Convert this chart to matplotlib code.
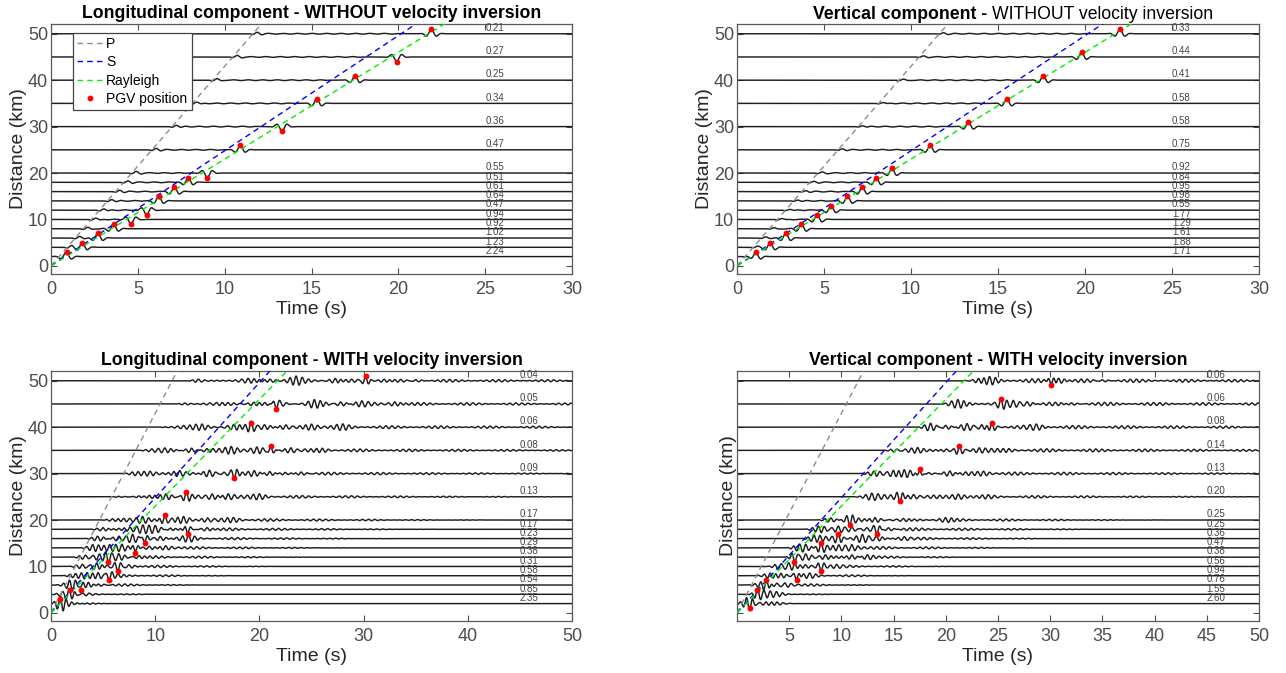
import numpy as np
import matplotlib.pyplot as plt

plt.rcParams['font.family'] = ['Liberation Sans', 'DejaVu Sans']

# receiver distances (km), bottom to top
dist = [2, 4, 6, 8, 10, 12, 14, 16, 18, 20, 25, 30, 35, 40, 45, 50]

# moveout velocities (km/s)
vp, vs, vr = 4.3, 2.48, 2.3

# PGV labels, bottom to top
pgv_lon_no = ['2.24', '1.23', '1.02', '0.92', '0.94', '0.47', '0.64', '0.61',
              '0.51', '0.55', '0.47', '0.36', '0.34', '0.25', '0.27', '0.21']
pgv_ver_no = ['1.71', '1.88', '1.61', '1.29', '1.77', '0.55', '0.98', '0.95',
              '0.84', '0.92', '0.75', '0.58', '0.58', '0.41', '0.44', '0.33']
pgv_lon_inv = ['2.35', '0.85', '0.54', '0.58', '0.31', '0.38', '0.29', '0.23',
               '0.17', '0.17', '0.13', '0.09', '0.08', '0.06', '0.05', '0.04']
pgv_ver_inv = ['2.60', '1.55', '0.76', '0.94', '0.56', '0.38', '0.47', '0.36',
               '0.25', '0.25', '0.20', '0.13', '0.14', '0.08', '0.06', '0.06']

# PGV time (s) and polarity of the peak
tpk_lon_no = [0.9, 1.8, 2.7, 3.6, 4.6, 5.5, 6.2, 7.1, 7.9, 9.0, 10.9, 13.3, 15.3, 17.5, 19.9, 21.9]
sgn_lon_no = [1, 1, 1, 1, -1, -1, 1, 1, 1, -1, 1, -1, 1, 1, -1, 1]
tpk_ver_no = [1.07, 1.9, 2.8, 3.7, 4.6, 5.4, 6.35, 7.2, 8.0, 8.9, 11.1, 13.3, 15.5, 17.6, 19.8, 22.0]
sgn_ver_no = [1] * 16
tpk_lon_inv = [0.9, 1.8, 2.9, 5.6, 6.4, 5.5, 8.1, 9.0, 13.1, 10.9, 13.0, 17.6, 21.1, 19.2, 21.6, 30.2]
sgn_lon_inv = [1, 1, -1, -1, -1, -1, -1, -1, -1, 1, 1, -1, 1, 1, -1, 1]
tpk_ver_inv = [1.2, 1.95, 2.8, 5.7, 8.05, 5.5, 8.05, 9.7, 13.4, 10.8, 15.6, 17.5, 21.3, 24.4, 25.3, 30.1]
sgn_ver_inv = [-1, 1, 1, -1, -1, -1, 1, 1, -1, -1, -1, 1, 1, 1, 1, -1]

# P precursor amplitude for the simple (no inversion) traces
pamp_lon_no = 0.3
pamp_ver_no = 0.2

# coda description for the inversion traces: onset, end, level, extra wave packets
on_lon_inv = [0.4, 0.9, 1.3, 1.8, 2.3, 2.8, 3.2, 3.7, 4.2, 4.6, 5.8, 7.0, 8.2, 10.0, 12.0, 13.0]
end_lon_inv = [7, 11, 15, 18, 22, 26, 30, 34, 38, 44, 52, 60, 70, 80, 80, 80]
lvl_lon_inv = [0.2, 0.3, 0.4, 0.42, 0.42, 0.42, 0.42, 0.42, 0.45, 0.45, 0.45, 0.45, 0.45, 0.45, 0.45, 0.45]
bursts_lon_inv = [
    [(1.15, -0.9), (2.5, 0.2), (3.5, 0.15)],
    [(1.4, -0.6), (2.2, 0.6), (3.0, 0.4)],
    [(1.8, 0.6), (2.3, 0.6), (3.6, 0.5), (4.5, 0.4)],
    [(2.4, 0.5), (3.5, 0.6), (4.5, 0.6), (6.5, 0.4)],
    [(3.0, 0.5), (4.4, 0.7), (5.3, 0.6), (7.5, 0.4)],
    [(3.3, 0.5), (4.6, 0.6), (6.5, 0.6), (8.5, 0.4)],
    [(4.0, 0.4), (5.6, 0.6), (6.8, 0.7), (9.5, 0.5), (11.0, 0.4)],
    [(4.5, 0.4), (6.5, 0.6), (7.8, 0.75), (10.5, 0.5), (13.2, 0.5)],
    [(5.0, 0.4), (7.5, 0.6), (8.8, 0.75), (10.0, 0.7), (11.5, 0.5), (15.0, 0.4)],
    [(6.0, 0.4), (8.8, 0.7), (12.7, 0.7), (15.0, 0.5), (17.5, 0.4)],
    [(8.5, 0.4), (11.0, 0.7), (15.5, 0.7), (17.0, 0.6), (20.0, 0.4)],
    [(9.5, 0.4), (12.3, 0.7), (15.2, 0.8), (19.5, 0.6), (21.0, 0.7), (24.0, 0.4)],
    [(11.0, 0.4), (13.5, 0.6), (17.3, 0.75), (19.8, 0.6), (23.0, 0.6), (26.0, 0.4)],
    [(14.5, 0.4), (17.6, 0.6), (20.5, 0.5), (22.5, 0.7), (25.0, 0.6), (28.0, 0.4)],
    [(16.0, 0.35), (19.5, 0.4), (22.0, 0.7), (25.3, 0.75), (27.8, 0.5), (29.8, 0.5), (33.0, 0.45)],
    [(15.0, 0.3), (19.0, 0.35), (21.0, 0.4), (23.5, 0.7), (27.3, 0.6), (32.0, 0.4), (35.0, 0.35)],
]
on_ver_inv = [0.5, 1.5, 2.2, 3.0, 3.8, 4.5, 5.5, 6.5, 7.5, 8.5, 11.0, 13.0, 15.0, 17.5, 19.5, 21.0]
end_ver_inv = [7, 10, 14, 17, 21, 25, 29, 33, 37, 42, 52, 62, 75, 80, 80, 80]
lvl_ver_inv = [0.2, 0.3, 0.4, 0.42, 0.42, 0.42, 0.45, 0.45, 0.45, 0.45, 0.45, 0.45, 0.45, 0.45, 0.48, 0.48]
bursts_ver_inv = [
    [(0.9, 0.6), (2.8, 0.3), (3.8, 0.3)],
    [(2.6, 0.5), (3.8, 0.35)],
    [(3.8, 0.7), (4.6, 0.6), (2.3, 0.5)],
    [(3.2, 0.6), (4.2, 0.6), (7.0, 0.4)],
    [(4.2, 0.7), (5.0, 0.6), (6.5, 0.5), (9.5, 0.4)],
    [(6.6, 0.6), (8.5, 0.6), (11.0, 0.6), (12.5, 0.5)],
    [(6.0, 0.6), (6.6, 0.5), (9.7, 0.6), (11.0, 0.6)],
    [(7.4, 0.5), (12.0, 0.7), (13.4, 0.6), (16.0, 0.4)],
    [(7.8, 0.6), (9.7, 0.75), (11.0, 0.7), (14.5, 0.4)],
    [(9.0, 0.5), (13.2, 0.6), (16.0, 0.5), (20.0, 0.4)],
    [(12.9, 0.6), (16.9, 0.5), (21.2, 0.5), (24.0, 0.3)],
    [(13.1, 0.5), (15.0, 0.7), (16.0, 0.6), (20.4, 0.7), (23.6, 0.4)],
    [(15.3, 0.4), (17.3, 0.5), (20.0, 0.6), (23.2, 0.4), (26.0, 0.3)],
    [(18.5, 0.6), (20.0, 0.5), (22.0, 0.7), (23.5, 0.6), (28.7, 0.5)],
    [(21.2, 0.7), (26.5, 0.6), (27.8, 0.55), (32.0, 0.4)],
    [(23.2, 0.7), (24.2, 0.6), (30.8, 0.6), (35.0, 0.35)],
]


def pulse(t, t0, a, f=1.5, w=0.38):
    return a * np.cos(2 * np.pi * f * (t - t0)) * np.exp(-((t - t0) / w) ** 2)


def simple_trace(t, d, tp, s, pamp):
    y = pulse(t, tp, s)
    y += pulse(t, d / vp + 0.25, pamp, 1.6, 0.35)
    # faint scattered energy between P and S
    ts = d / vs
    env = np.clip((t - d / vp) / 0.5, 0, 1) * np.clip((ts - t) / 0.5, 0, 1)
    y += 0.08 * env * np.cos(2 * np.pi * 1.2 * t + d)
    return y


def coda_trace(t, d, tp, s, t_on, t_end, lvl, bursts):
    y = pulse(t, tp, s, 1.7, 0.45)
    for tb, ab in bursts:
        y += pulse(t, tb, ab, 1.7, 0.8)
    env = np.clip((t - t_on) / 1.0, 0, 1) * np.clip((t_end - t) / (t_end - t_on), 0, 1)
    mod = 0.6 + 0.4 * np.cos(2 * np.pi * 0.21 * t + 0.5 * d)
    y += lvl * env * mod * np.cos(2 * np.pi * 1.7 * t + d)
    return y


def setup(ax, tmax, xticks):
    ax.set_xlim(0, tmax)
    ax.set_ylim(-1.75, 52.1)
    ax.set_xticks(xticks)
    ax.set_yticks([0, 10, 20, 30, 40, 50])
    ax.tick_params(direction='in', top=True, right=True, length=4, width=0.8,
                   labelsize=13, colors='#4d4d4d')
    ax.tick_params(axis='y', pad=2)
    ax.tick_params(axis='x', pad=5)
    for sp in ax.spines.values():
        sp.set_color('#5a5a5a')
        sp.set_linewidth(0.9)
    ax.set_ylabel('Distance (km)', fontsize=14, color='#262626', labelpad=1)
    ax.set_xlabel('Time (s)', fontsize=14, color='#262626', labelpad=2)


def moveouts(ax, tmax):
    tt = np.array([0, tmax])
    ax.plot(tt, tt * vp, ls=(0, (4, 3)), color='#8c8c8c', lw=1, label='P', zorder=3)
    ax.plot(tt, tt * vs, ls=(0, (4, 3)), color='#0000ff', lw=1, label='S', zorder=3)
    ax.plot(tt, tt * vr, ls=(0, (4, 3)), color='#00ee00', lw=1, label='Rayleigh', zorder=3)


fig = plt.figure(figsize=(12.86, 6.73), dpi=100)
W, H = 1286, 673
ax_tl = fig.add_axes([51 / W, 1 - 274 / H, 521 / W, 250 / H])
ax_tr = fig.add_axes([737 / W, 1 - 274 / H, 522 / W, 250 / H])
ax_bl = fig.add_axes([51 / W, 1 - 621 / H, 521 / W, 250 / H])
ax_br = fig.add_axes([737 / W, 1 - 621 / H, 522 / W, 250 / H])

t30 = np.linspace(0, 30, 3000)
t50 = np.linspace(0, 50, 6000)

panels = [
    (ax_tl, t30, tpk_lon_no, sgn_lon_no, pgv_lon_no, 25),
    (ax_tr, t30, tpk_ver_no, sgn_ver_no, pgv_ver_no, 25),
    (ax_bl, t50, tpk_lon_inv, sgn_lon_inv, pgv_lon_inv, 45),
    (ax_br, t50, tpk_ver_inv, sgn_ver_inv, pgv_ver_inv, 45),
]

for k, (ax, t, tpk, sgn, lab, xlab) in enumerate(panels):
    for i, d in enumerate(dist):
        if k == 0:
            y = simple_trace(t, d, tpk[i], sgn[i], pamp_lon_no)
        elif k == 1:
            y = simple_trace(t, d, tpk[i], sgn[i], pamp_ver_no)
        elif k == 2:
            y = coda_trace(t, d, tpk[i], sgn[i], on_lon_inv[i], end_lon_inv[i],
                           lvl_lon_inv[i], bursts_lon_inv[i])
        else:
            y = coda_trace(t, d, tpk[i], sgn[i], on_ver_inv[i], end_ver_inv[i],
                           lvl_ver_inv[i], bursts_ver_inv[i])
        ax.plot(t, d + y, color='#1e1e1e', lw=1.05, zorder=2)
        ax.text(xlab, d + 0.15, lab[i], fontsize=7, color='#444444',
                ha='left', va='bottom', zorder=4)
    moveouts(ax, t[-1])
    ax.plot(tpk, np.array(dist) + np.array(sgn), 'o', color='red', ms=4.2,
            mec='none', label='PGV position', zorder=5)

setup(ax_tl, 30, range(0, 31, 5))
setup(ax_tr, 30, range(0, 31, 5))
setup(ax_bl, 50, range(0, 51, 10))
setup(ax_br, 50, range(5, 51, 5))
ax_br.set_yticklabels([])
ax_br.set_ylabel('Distance (km)', fontsize=14, color='#262626', labelpad=-2)

leg = ax_tl.legend(loc='upper left', bbox_to_anchor=(0.042, 0.964), fontsize=10,
                   handlelength=1.9, handletextpad=0.2, labelspacing=0.3,
                   borderpad=0.3, borderaxespad=0, fancybox=False, framealpha=1,
                   edgecolor='#444444')
leg.get_frame().set_linewidth(0.9)
leg.set_zorder(10)

tfs = 12.7
ax_tl.set_title('Longitudinal component - WITHOUT velocity inversion',
                fontsize=tfs, fontweight='bold', pad=4)
ax_bl.set_title('Longitudinal component - WITH velocity inversion',
                fontsize=tfs, fontweight='bold', pad=4)
ax_br.set_title('Vertical component - WITH velocity inversion',
                fontsize=tfs, fontweight='bold', pad=4)

# mixed-weight title for the top right panel
r = fig.canvas.get_renderer()
t1 = fig.text(0, 0, 'Vertical component - ', fontsize=tfs, fontweight='bold')
t2 = fig.text(0, 0, 'WITHOUT velocity inversion', fontsize=tfs)
w1 = t1.get_window_extent(r).width
w2 = t2.get_window_extent(r).width
cx = 1013
ty = 1 - 19 / H
t1.set_position(((cx - (w1 + w2) / 2) / W, ty))
t2.set_position(((cx - (w1 + w2) / 2 + w1) / W, ty))

fig.savefig('out.png', dpi=100)
